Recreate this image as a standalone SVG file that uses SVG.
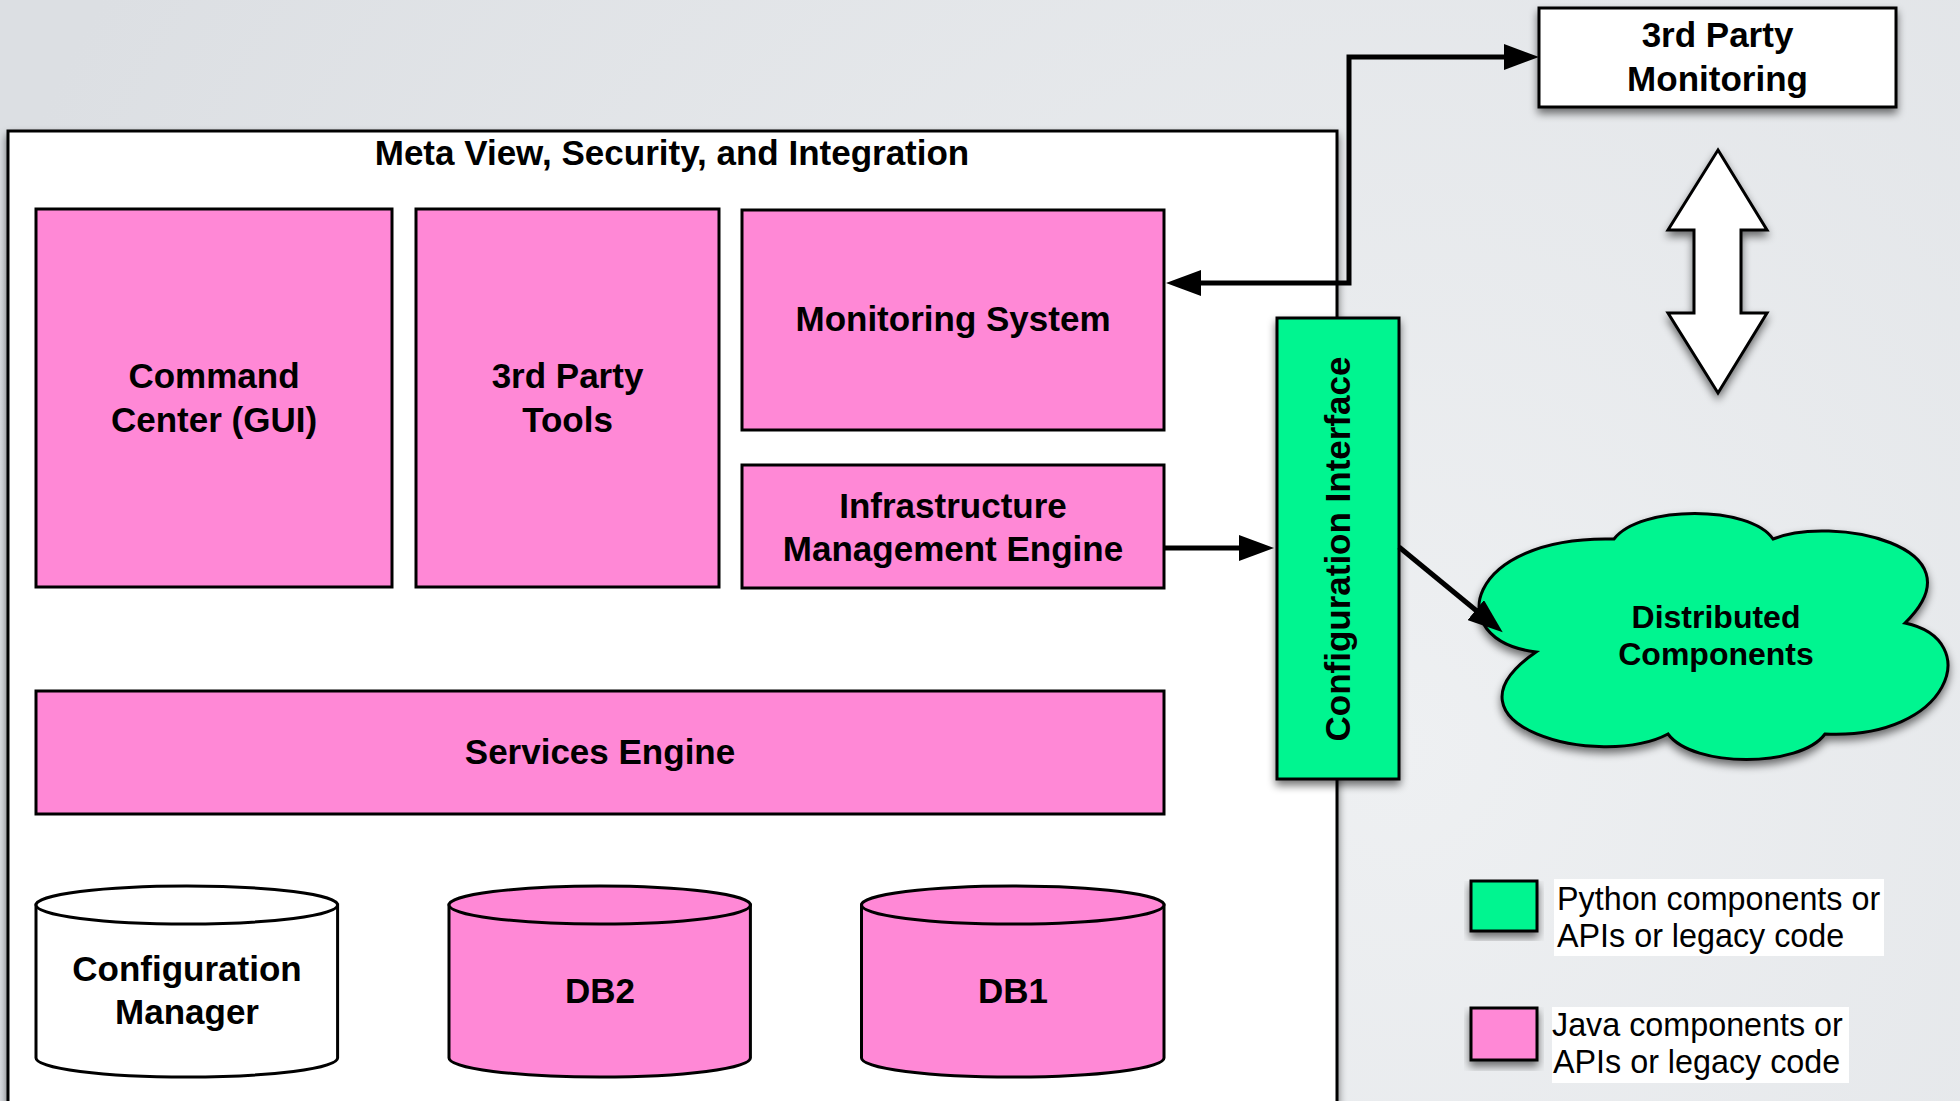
<svg xmlns="http://www.w3.org/2000/svg" width="1960" height="1101" viewBox="0 0 1960 1101">
  <defs>
    <radialGradient id="bg" cx="1400" cy="750" r="1500" gradientUnits="userSpaceOnUse">
      <stop offset="0" stop-color="#eef0f2"/>
      <stop offset="1" stop-color="#dcdfe3"/>
    </radialGradient>
    <filter id="shadow" x="-10%" y="-10%" width="120%" height="130%">
      <feGaussianBlur in="SourceAlpha" stdDeviation="4"/>
      <feOffset dx="0" dy="5" result="b"/>
      <feComponentTransfer><feFuncA type="linear" slope="0.55"/></feComponentTransfer>
      <feMerge><feMergeNode/><feMergeNode in="SourceGraphic"/></feMerge>
    </filter>
    <marker id="arrow" viewBox="0 0 35 26" refX="25" refY="13" markerWidth="35" markerHeight="26" markerUnits="userSpaceOnUse" orient="auto-start-reverse">
      <path d="M0,0 L35,13 L0,26 z" fill="#000"/>
    </marker>
    <style>
      .pink { fill:#ff88d6; stroke:#000; stroke-width:3; }
      .green { fill:#00f590; stroke:#000; stroke-width:3; }
      .white { fill:#ffffff; stroke:#000; stroke-width:3; }
      .lbl { font-family:"Liberation Sans", Arial, Helvetica, sans-serif; font-weight:bold; font-size:35px; text-anchor:middle; fill:#000; }
      .leg { font-family:"Liberation Sans", Arial, Helvetica, sans-serif; font-size:32.3px; fill:#000; }
      .conn { fill:none; stroke:#000; stroke-width:5; }
    </style>
  </defs>

  <rect x="0" y="0" width="1960" height="1101" fill="url(#bg)"/>

  <g id="container">
    <rect x="8" y="131" width="1329" height="1000" fill="#fff" stroke="#000" stroke-width="3" filter="url(#shadow)"/>
    <text class="lbl" x="672" y="165">Meta View, Security, and Integration</text>
  </g>

  <g id="command-center">
    <rect class="pink" x="36" y="209" width="356" height="378"/>
    <text class="lbl" x="214" y="388">Command</text>
    <text class="lbl" x="214" y="432">Center (GUI)</text>
  </g>

  <g id="third-party-tools">
    <rect class="pink" x="416" y="209" width="303" height="378"/>
    <text class="lbl" x="567.5" y="388">3rd Party</text>
    <text class="lbl" x="567.5" y="432">Tools</text>
  </g>

  <g id="monitoring-system">
    <rect class="pink" x="742" y="210" width="422" height="220"/>
    <text class="lbl" x="953" y="331">Monitoring System</text>
  </g>

  <g id="infrastructure-management-engine">
    <rect class="pink" x="742" y="465" width="422" height="123"/>
    <text class="lbl" x="953" y="518">Infrastructure</text>
    <text class="lbl" x="953" y="561">Management Engine</text>
  </g>

  <g id="services-engine">
    <rect class="pink" x="36" y="691" width="1128" height="123"/>
    <text class="lbl" x="600" y="764">Services Engine</text>
  </g>

  <g id="configuration-manager">
    <path d="M36 905 V1058 A150.8 19 0 0 0 337.6 1058 V905 Z" fill="#fff" stroke="#000" stroke-width="3"/>
    <ellipse cx="186.8" cy="905" rx="150.8" ry="19" fill="#fff" stroke="#000" stroke-width="3"/>
    <text class="lbl" x="187" y="981">Configuration</text>
    <text class="lbl" x="187" y="1024">Manager</text>
  </g>

  <g id="db2">
    <path d="M449 905 V1058 A150.7 19 0 0 0 750.4 1058 V905 Z" class="pink"/>
    <ellipse cx="599.7" cy="905" rx="150.7" ry="19" class="pink"/>
    <text class="lbl" x="600" y="1003">DB2</text>
  </g>

  <g id="db1">
    <path d="M861.5 905 V1058 A151.25 19 0 0 0 1164 1058 V905 Z" class="pink"/>
    <ellipse cx="1012.75" cy="905" rx="151.25" ry="19" class="pink"/>
    <text class="lbl" x="1013" y="1003">DB1</text>
  </g>

  <g id="configuration-interface">
    <rect class="green" x="1277" y="318" width="122" height="461" filter="url(#shadow)"/>
    <text class="lbl" transform="translate(1350,549) rotate(-90)" x="0" y="0">Configuration Interface</text>
  </g>

  <g id="third-party-monitoring">
    <rect class="white" x="1539" y="8" width="357" height="99" filter="url(#shadow)"/>
    <text class="lbl" x="1717.5" y="47">3rd Party</text>
    <text class="lbl" x="1717.5" y="91">Monitoring</text>
  </g>

  <g id="double-arrow">
    <polygon class="white" points="1718,150 1767,230 1741,230 1741,313 1767,313 1718,393 1668,313 1694,313 1694,230 1668,230" filter="url(#shadow)"/>
  </g>

  <g id="distributed-components">
    <path class="green" filter="url(#shadow)" d="M1536 652 C1440 640 1465 535 1614 539 C1640 505 1750 505 1773 539 C1830 515 1985 545 1905 623 C1985 640 1950 740 1825 734 C1800 768 1693 768 1668 734 C1600 770 1430 725 1536 652 Z"/>
    <text class="lbl" style="font-size:32px" x="1716" y="628">Distributed</text>
    <text class="lbl" style="font-size:32px" x="1716" y="665">Components</text>
  </g>

  <g id="legend">
    <rect class="green" x="1471" y="881" width="66" height="50" filter="url(#shadow)"/>
    <rect x="1554" y="879" width="330" height="77" fill="#fff"/>
    <text class="leg" x="1557" y="910">Python components or</text>
    <text class="leg" x="1557" y="947">APIs or legacy code</text>
    <rect class="pink" x="1471" y="1008" width="66" height="52" filter="url(#shadow)"/>
    <rect x="1552" y="1007" width="297" height="76" fill="#fff"/>
    <text class="leg" x="1552" y="1036">Java components or</text>
    <text class="leg" x="1553" y="1073">APIs or legacy code</text>
  </g>

  <g id="connectors">
    <path class="conn" d="M1176 283 H1349 V57 H1529" marker-start="url(#arrow)" marker-end="url(#arrow)"/>
    <path class="conn" d="M1164 548 H1264" marker-end="url(#arrow)"/>
    <path class="conn" d="M1399 547 L1495 626" marker-end="url(#arrow)"/>
  </g>
</svg>
